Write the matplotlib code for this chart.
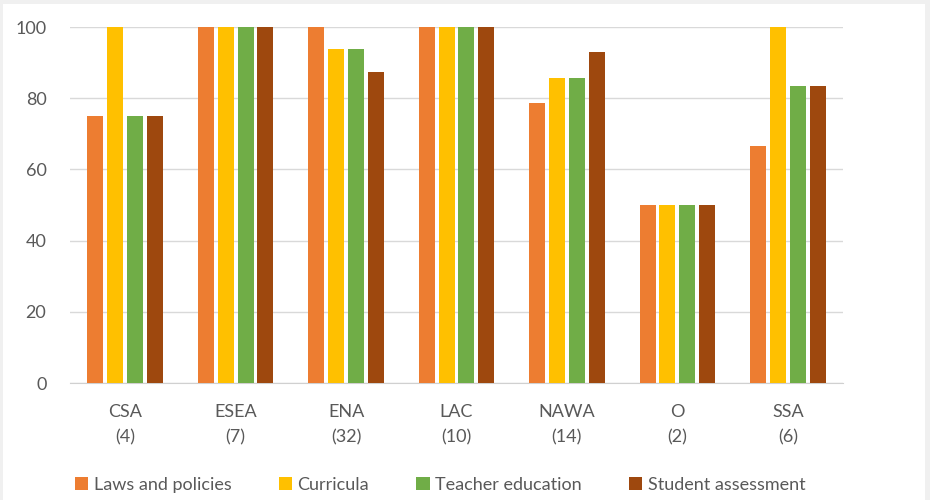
import numpy as np
import matplotlib.pyplot as plt
from matplotlib.patches import Rectangle

plt.rcParams['font.family'] = ['Lato', 'DejaVu Sans']

regions = ['CSA\n(4)', 'ESEA\n(7)', 'ENA\n(32)', 'LAC\n(10)', 'NAWA\n(14)', 'O\n(2)', 'SSA\n(6)']
laws = [75, 100, 100, 100, 78.6, 50, 66.7]
curricula = [100, 100, 93.8, 100, 85.7, 50, 100]
teacher = [75, 100, 93.8, 100, 85.7, 50, 83.3]
assessment = [75, 100, 87.5, 100, 92.9, 50, 83.3]

series = [
    ('Laws and policies', laws, '#ED7D31'),
    ('Curricula', curricula, '#FFC000'),
    ('Teacher education', teacher, '#70AD47'),
    ('Student assessment', assessment, '#9E480E'),
]

fig = plt.figure(figsize=(9.3, 5.0), dpi=100)
fig.patch.set_facecolor('#f0f0f0')
# white chart panel on the grey page
fig.patches.append(Rectangle((3 / 930, 0), 922 / 930, 496 / 500, transform=fig.transFigure,
                             facecolor='white', edgecolor='none', zorder=-10))

ax = fig.add_axes([70 / 930, 117 / 500, 773 / 930, 356 / 500])
ax.set_facecolor('none')
ax.set_zorder(2)

x = np.arange(len(regions))
width = 0.145
pitch = 0.18
for i, (name, vals, color) in enumerate(series):
    ax.bar(x + (i - 1.5) * pitch, vals, width, color=color, label=name, zorder=3)

ax.set_xlim(-0.5, len(regions) - 0.5)
ax.set_ylim(0, 100)
ax.set_yticks(range(0, 101, 20))
ax.set_xticks(x)
ax.set_xticklabels(regions, linespacing=1.75)
ax.yaxis.grid(True, color='#d9d9d9', linewidth=1, zorder=0)
ax.tick_params(length=0, labelsize=13, colors='#595959')
ax.tick_params(axis='x', pad=15)
ax.tick_params(axis='y', pad=17)
for side in ['top', 'right', 'left']:
    ax.spines[side].set_visible(False)
ax.spines['bottom'].set_color('#d0d0d0')

leg = fig.legend(loc='center', bbox_to_anchor=(440 / 930, 1 - 485 / 500), ncol=4,
                 frameon=False, fontsize=13, handlelength=0.75, handleheight=0.75,
                 handletextpad=0.3, columnspacing=2.6)
leg.set_zorder(3)
for t in leg.get_texts():
    t.set_color('#595959')

fig.savefig('out.png', dpi=100)
